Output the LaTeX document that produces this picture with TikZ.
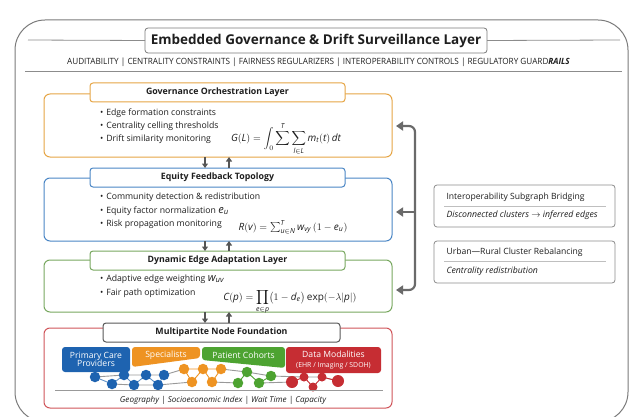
\documentclass[tikz,border=0pt]{standalone}
\usepackage{fontspec}
\setmainfont{Open Sans}
\usetikzlibrary{arrows.meta,calc}

\definecolor{frameGray}{HTML}{7A7A7A}
\definecolor{ruleGray}{HTML}{8C8C8C}
\definecolor{arrowGray}{HTML}{6A6A6A}
\definecolor{txt}{HTML}{1E1E1E}
\definecolor{cOrange}{HTML}{E6A545}
\definecolor{cBlue}{HTML}{4A86C5}
\definecolor{cGreen}{HTML}{78A860}
\definecolor{cRed}{HTML}{D0555A}
\definecolor{tBlue}{HTML}{1E63B0}
\definecolor{tOrange}{HTML}{EE9322}
\definecolor{tGreen}{HTML}{4DA331}
\definecolor{tRed}{HTML}{C62D33}

\newcommand{\fs}[1]{\fontsize{#1}{#1}\selectfont}

\begin{document}
\begin{tikzpicture}[x=1pt,y=-1pt,
  every node/.style={inner sep=0pt, outer sep=0pt, text=txt},
  rule/.style={draw=ruleGray, line width=0.8pt},
  hdrbox/.style={draw=frameGray, fill=white, rounded corners=3pt, line width=0.8pt,
    minimum width=342pt, minimum height=25pt, font=\bfseries\fs{13.5}},
  panel/.style={rounded corners=6pt, line width=1pt, fill=white, minimum width=348pt},
  ptitle/.style={rounded corners=3pt, line width=1pt, fill=white,
    minimum width=255pt, minimum height=19pt, font=\bfseries\fs{8.8}},
  item/.style={anchor=west, font=\fs{8.7}},
  formula/.style={font=\fs{10}},
  flow/.style={draw=arrowGray!80!black, line width=1.1pt, -{Triangle[length=4.5pt,width=6pt]}},
  bigarrow/.style={draw=arrowGray, line width=2.2pt, rounded corners=6pt},
  sidebox/.style={draw=ruleGray, fill=white, rounded corners=3pt, line width=0.8pt,
    minimum width=181pt, minimum height=42pt},
  sidetitle/.style={anchor=west, font=\fs{8.6}},
  sidenote/.style={anchor=west, font=\itshape\fs{8.7}},
  tab/.style={rounded corners=3pt, text=white, align=center, font=\fs{8.6}},
  tablabel/.style={text=white, align=center, font=\fs{8.6}},
  gnode/.style={circle, minimum size=#1},
]
\useasboundingbox (0,0) rectangle (631,417);

% outer frame of the surveillance layer
\node[draw=frameGray, line width=1pt, rounded corners=30pt,
      minimum width=613pt, minimum height=402pt] (frame) at (321.5,221) {};

% header
\node[hdrbox] (hdr) at (316,40.5) {Embedded Governance \& Drift Surveillance Layer};
\draw[rule] (28,40) -- (hdr.west);
\draw[rule] (hdr.east) -- (620,40);
\node[font=\fs{8.6}, xscale=0.95] (tags) at (318.5,62.5)
  {AUDITABILITY | CENTRALITY CONSTRAINTS | FAIRNESS REGULARIZERS | INTEROPERABILITY CONTROLS | REGULATORY GUARD\textit{\textbf{RAILS}}};
\draw[rule] (25,71) -- (622,71);

% governance orchestration layer
\node[panel, draw=cOrange, minimum height=63pt] (gov) at (218,125.5) {};
\node[ptitle, draw=cOrange] (govt) at (217.5,92.5) {Governance Orchestration Layer};
\node[item] (gi1) at (100,113) {\textbullet\hspace{3pt}Edge formation constraints};
\node[item] (gi2) at (100,126) {\textbullet\hspace{3pt}Centrality celling thresholds};
\node[item] (gi3) at (100,139) {\textbullet\hspace{3pt}Drift similarity monitoring};
\node[formula] (gf) at (286,139)
  {$\displaystyle \mathit{G}(\mathit{L}) = \int_0 \sum^{\mathit{T}}\sum_{\mathit{l}\in \mathit{L}} \mathit{m}_{\mathit{t}}(\mathit{t})\,\mathit{dt}$};

% equity feedback topology
\node[panel, draw=cBlue, minimum height=63pt] (eq) at (218,209.5) {};
\node[ptitle, draw=cBlue] (eqt) at (217.5,177.5) {Equity Feedback Topology};
\node[item] (ei1) at (100,197) {\textbullet\hspace{3pt}Community detection \& redistribution};
\node[item] (ei2) at (100,211) {\textbullet\hspace{3pt}Equity factor normalization {\fs{11}$\mathit{e_u}$}};
\node[item] (ei3) at (100,224) {\textbullet\hspace{3pt}Risk propagation monitoring};
\node[formula] (ef) at (293,227)
  {$\mathit{R}(\mathit{v}) = \sum^{\mathit{T}}_{\mathit{u}\in \mathit{N}} \mathit{w}_{\mathit{vy}}\,(1-\mathit{e}_{\mathit{u}})$};

% dynamic edge adaptation layer
\node[panel, draw=cGreen, minimum height=52pt] (dyn) at (218,286) {};
\node[ptitle, draw=cGreen] (dynt) at (217.5,260.5) {Dynamic Edge Adaptation Layer};
\node[item] (di1) at (100,279) {\textbullet\hspace{3pt}Adaptive edge weighting {\fs{11}$\mathit{w_{uv}}$}};
\node[item] (di2) at (100,293) {\textbullet\hspace{3pt}Fair path optimization};
\node[formula] (df) at (290,302)
  {$\displaystyle \mathit{C}(\mathit{p}) = \prod_{\mathit{e}\in\mathit{p}}\bigl(1-\mathit{d}_{\mathit{e}}\bigr)\,\mathrm{exp}(-\lambda|\mathit{p}|)$};

% multipartite node foundation
\node[panel, draw=cRed, minimum height=80pt] (mp) at (218,368) {};
\node[ptitle, draw=black!65, minimum width=237pt] (mpt) at (221.5,332.5) {Multipartite Node Foundation};

% partition tabs
\node[tab, fill=tBlue, minimum width=68pt, minimum height=25pt] (tpc) at (96,359.5)
  {Primary Care\\[-1pt]Providers};
\fill[tOrange, rounded corners=3pt] (132,347) -- (200,347) -- (200,358) -- (132,367) -- cycle;
\node[tablabel] (tsp) at (166,355) {Specialists};
\fill[tGreen, rounded corners=3pt] (202,347) -- (285,347) -- (285,368) -- (202,360) -- cycle;
\node[tablabel] (tpco) at (243.5,355) {Patient Cohorts};
\node[tab, fill=tRed, minimum width=95pt, minimum height=26pt] (tdm) at (333.5,360)
  {Data Modalities\\[1pt]{\fs{6.9}(EHR / Imaging / SDOH)}};

% provider network
\foreach \n/\x/\y in {b1/95/377, b2/112/384, b3/124/375, b4/134/385, b5/146/375, b6/158/385, b7/164/375,
  o1/184/369, o2/192/382, o3/203/369, o4/212/382, o5/221/369,
  g1/238/383, g2/247/372, g3/259/383, g4/271/376,
  r1/292/382, r2/304/377, r3/313/387, r4/322/377, r5/338/381}
  \coordinate (\n) at (\x,\y);

\begin{scope}[line width=0.9pt]
  \draw[black!40] (b1) -- (b3) (b2) -- (b4) -- (b6) (b3) -- (b5) -- (b7) -- (o1)
    (b6) -- (o2) (o5) -- (g2) (o4) -- (g1) (g2) -- (g4) -- (r2) (g3) -- (r1) (r2) -- (r4) -- (r5);
  \draw[tBlue!70] (b1) -- (b2) -- (b3) -- (b4) -- (b5) -- (b6) -- (b7);
  \draw[tOrange] (o1) -- (o2) -- (o3) -- (o4) -- (o5) (o1) -- (o3) -- (o5);
  \draw[tGreen] (g1) -- (g2) -- (g3) -- (g4);
  \draw[tRed] (r1) -- (r2) -- (r3) -- (r4) -- (r5);
\end{scope}
\foreach \n in {b1,b2,b3,b4,b5,b6,b7} \node[gnode=10.5pt, fill=tBlue] (n\n) at (\n) {};
\foreach \n in {o1,o2,o3,o4,o5} \node[gnode=10.5pt, fill=tOrange] (n\n) at (\n) {};
\foreach \n in {g1,g2,g3,g4} \node[gnode=10.5pt, fill=tGreen] (n\n) at (\n) {};
\foreach \n in {r2,r3,r4} \node[gnode=9pt, fill=tRed] (n\n) at (\n) {};
\foreach \n in {r1,r5} \node[gnode=12pt, fill=tRed] (n\n) at (\n) {};

\draw[draw=black!40, line width=0.8pt] (55,390.5) -- (383,390.5);
\node[font=\itshape\fs{8.1}] (dims) at (223,400) {Geography | Socioeconomic Index | Wait Time | Capacity};

% vertical coupling arrows between layers
\draw[flow] ($(gov.south)+(-13,0)$) -- ($(eqt.north)+(-12.5,0)$);
\draw[flow] ($(eqt.north)+(11.5,0)$) -- ($(gov.south)+(11,0)$);
\draw[flow] ($(eq.south)+(-13,0)$) -- ($(dynt.north)+(-12.5,0)$);
\draw[flow] ($(dynt.north)+(11.5,0)$) -- ($(eq.south)+(11,0)$);
\draw[flow] ($(dyn.south)+(-13,0)$) -- ($(mpt.north)+(-16.5,0)$);
\draw[flow] ($(mpt.north)+(7.5,0)$) -- ($(dyn.south)+(11,0)$);

% feedback rail on the right
\coordinate (rail) at (415,0);
\coordinate (tipG) at ($(gov.east)+(4,0.5)$);
\coordinate (tipE) at ($(eq.east)+(4,2.5)$);
\coordinate (tipD) at ($(dyn.east)+(4,4)$);
\draw[bigarrow, {Triangle[length=7pt,width=9pt]}-{Triangle[length=7pt,width=9pt]}]
  (tipG) -- (tipG -| rail) -- (tipD -| rail) -- (tipD);
\draw[bigarrow, -{Triangle[length=7pt,width=9pt]}] (tipE -| rail) -- (tipE);

% side panels
\node[sidebox] (ib) at (524.5,206) {};
\node[sidetitle] (ibt) at (446.5,197.5) {Interoperability Subgraph Bridging};
\draw[rule, draw=black!25] ($(ib.west)+(10,0)$) -- ($(ib.east)+(-9,0)$);
\node[sidenote] (ibs) at (446.5,215.5) {Disconnected clusters {\upshape$\rightarrow$} inferred edges};

\node[sidebox] (ub) at (524.5,262) {};
\node[sidetitle] (ubt) at (446.5,252.5) {Urban—Rural Cluster Rebalancing};
\draw[rule, draw=black!25] ($(ub.west)+(10,-1)$) -- ($(ub.east)+(-9,-1)$);
\node[sidenote] (ubs) at (446.5,271) {Centrality redistribution};
\end{tikzpicture}
\end{document}
